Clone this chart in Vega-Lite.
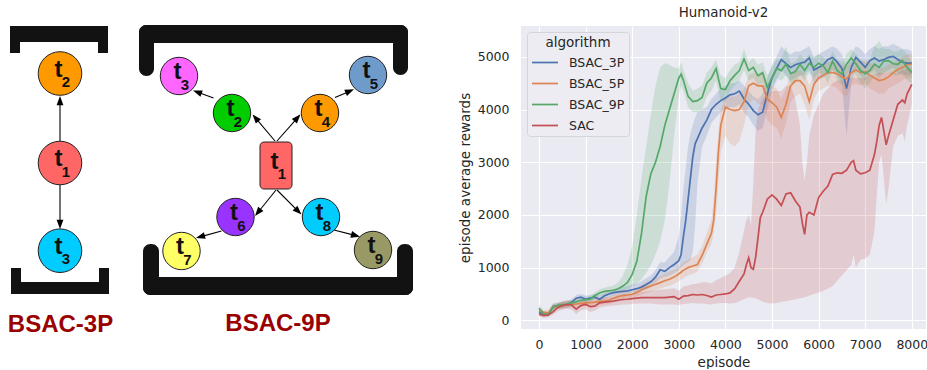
{
  "$schema": "https://vega.github.io/schema/vega-lite/v6.json",
  "padding": {"left": 0, "top": 5, "right": 0, "bottom": 0},
  "background": "white",
  "bounds": "flush",
  "spacing": 81,
  "resolve": {"scale": {"color": "independent"}, "legend": {"color": "independent"}},
  "config": {
    "font": "DejaVu Sans",
    "view": {"stroke": null},
    "axis": {"labelFont": "DejaVu Sans", "labelFontSize": 12.5, "labelColor": "#262626", "titleFont": "DejaVu Sans", "titleFontSize": 13.5, "titleFontWeight": "normal", "titleColor": "#262626", "gridColor": "#ffffff", "gridWidth": 1.1, "domain": false, "ticks": false},
    "title": {"font": "DejaVu Sans", "fontSize": 13.4, "fontWeight": "normal", "color": "#262626", "offset": 7}
  },
  "datasets": {
    "bars": [
      {"grp": "3P", "x": 10, "x2": 108, "y": 25, "y2": 41},
      {"grp": "3P", "x": 10, "x2": 20, "y": 25, "y2": 52},
      {"grp": "3P", "x": 98, "x2": 108, "y": 25, "y2": 52},
      {"grp": "3P", "x": 11, "x2": 109, "y": 281, "y2": 293},
      {"grp": "3P", "x": 11, "x2": 21, "y": 267, "y2": 293},
      {"grp": "3P", "x": 99, "x2": 109, "y": 267, "y2": 293},
      {"grp": "9P", "x": 139, "x2": 408, "y": 24, "y2": 42},
      {"grp": "9P", "x": 139, "x2": 154, "y": 24, "y2": 75},
      {"grp": "9P", "x": 393, "x2": 408, "y": 24, "y2": 74},
      {"grp": "9P", "x": 143, "x2": 413, "y": 276, "y2": 294},
      {"grp": "9P", "x": 143, "x2": 159, "y": 243, "y2": 294},
      {"grp": "9P", "x": 397, "x2": 413, "y": 243, "y2": 294}
    ],
    "edges": [
      {"x": 60, "y": 140, "x2": 60, "y2": 100.2},
      {"x": 60, "y": 184, "x2": 60, "y2": 222.8},
      {"x": 275, "y": 140, "x2": 255.9, "y2": 117.4},
      {"x": 277, "y": 140, "x2": 297, "y2": 117.3},
      {"x": 276, "y": 189, "x2": 258.3, "y2": 211},
      {"x": 277, "y": 189, "x2": 297.8, "y2": 209.9},
      {"x": 213.5, "y": 97, "x2": 197.9, "y2": 91.3},
      {"x": 335, "y": 96.5, "x2": 349.2, "y2": 90.4},
      {"x": 221.5, "y": 230, "x2": 201, "y2": 235.6},
      {"x": 334, "y": 229, "x2": 355, "y2": 234.4}
    ],
    "nodes": [
      {"id": "3P-t2", "grp": "3P", "kind": "circle", "num": "2", "x": 60, "y": 72.5},
      {"id": "3P-t1", "grp": "3P", "kind": "circle", "num": "1", "x": 60, "y": 162},
      {"id": "3P-t3", "grp": "3P", "kind": "circle", "num": "3", "x": 60, "y": 249.7},
      {"id": "9P-t3", "grp": "9P", "kind": "circle", "num": "3", "x": 179, "y": 75},
      {"id": "9P-t2", "grp": "9P", "kind": "circle", "num": "2", "x": 232, "y": 112},
      {"id": "9P-t4", "grp": "9P", "kind": "circle", "num": "4", "x": 320, "y": 112},
      {"id": "9P-t5", "grp": "9P", "kind": "circle", "num": "5", "x": 368, "y": 74},
      {"id": "9P-t6", "grp": "9P", "kind": "circle", "num": "6", "x": 235.5, "y": 216},
      {"id": "9P-t8", "grp": "9P", "kind": "circle", "num": "8", "x": 321, "y": 216},
      {"id": "9P-t7", "grp": "9P", "kind": "circle", "num": "7", "x": 181.5, "y": 250},
      {"id": "9P-t9", "grp": "9P", "kind": "circle", "num": "9", "x": 373, "y": 249},
      {"id": "9P-t1", "grp": "9P", "kind": "rect", "num": "1", "x": 276, "y": 164.5}
    ],
    "rects": [
      {"id": "9P-t1", "x": 260, "x2": 292, "y": 141, "y2": 188}
    ],
    "groups": [
      {"name": "BSAC-3P", "x": 60.5, "y": 324},
      {"name": "BSAC-9P", "x": 278, "y": 322.5}
    ],
    "curves": [
      {"algorithm":"BSAC_3P","episode":0,"mean":150,"lo":100,"hi":220},
      {"algorithm":"BSAC_3P","episode":100,"mean":120,"lo":80,"hi":170},
      {"algorithm":"BSAC_3P","episode":200,"mean":110,"lo":70,"hi":160},
      {"algorithm":"BSAC_3P","episode":300,"mean":260,"lo":200,"hi":320},
      {"algorithm":"BSAC_3P","episode":400,"mean":280,"lo":220,"hi":340},
      {"algorithm":"BSAC_3P","episode":500,"mean":290,"lo":230,"hi":350},
      {"algorithm":"BSAC_3P","episode":600,"mean":300,"lo":240,"hi":360},
      {"algorithm":"BSAC_3P","episode":700,"mean":340,"lo":280,"hi":400},
      {"algorithm":"BSAC_3P","episode":800,"mean":420,"lo":350,"hi":480},
      {"algorithm":"BSAC_3P","episode":900,"mean":440,"lo":370,"hi":500},
      {"algorithm":"BSAC_3P","episode":1000,"mean":400,"lo":340,"hi":470},
      {"algorithm":"BSAC_3P","episode":1100,"mean":420,"lo":360,"hi":480},
      {"algorithm":"BSAC_3P","episode":1200,"mean":440,"lo":380,"hi":500},
      {"algorithm":"BSAC_3P","episode":1300,"mean":400,"lo":340,"hi":470},
      {"algorithm":"BSAC_3P","episode":1400,"mean":460,"lo":400,"hi":520},
      {"algorithm":"BSAC_3P","episode":1500,"mean":500,"lo":440,"hi":560},
      {"algorithm":"BSAC_3P","episode":1600,"mean":525,"lo":460,"hi":590},
      {"algorithm":"BSAC_3P","episode":1700,"mean":540,"lo":470,"hi":610},
      {"algorithm":"BSAC_3P","episode":1800,"mean":550,"lo":480,"hi":630},
      {"algorithm":"BSAC_3P","episode":1900,"mean":560,"lo":490,"hi":650},
      {"algorithm":"BSAC_3P","episode":2000,"mean":580,"lo":500,"hi":680},
      {"algorithm":"BSAC_3P","episode":2100,"mean":600,"lo":520,"hi":700},
      {"algorithm":"BSAC_3P","episode":2200,"mean":630,"lo":550,"hi":740},
      {"algorithm":"BSAC_3P","episode":2300,"mean":680,"lo":580,"hi":800},
      {"algorithm":"BSAC_3P","episode":2400,"mean":730,"lo":620,"hi":850},
      {"algorithm":"BSAC_3P","episode":2500,"mean":820,"lo":700,"hi":950},
      {"algorithm":"BSAC_3P","episode":2600,"mean":960,"lo":800,"hi":1100},
      {"algorithm":"BSAC_3P","episode":2700,"mean":930,"lo":820,"hi":1100},
      {"algorithm":"BSAC_3P","episode":2800,"mean":1000,"lo":850,"hi":1200},
      {"algorithm":"BSAC_3P","episode":2900,"mean":1060,"lo":900,"hi":1300},
      {"algorithm":"BSAC_3P","episode":3000,"mean":1130,"lo":950,"hi":1600},
      {"algorithm":"BSAC_3P","episode":3050,"mean":1250,"lo":1000,"hi":2000},
      {"algorithm":"BSAC_3P","episode":3100,"mean":1600,"lo":1050,"hi":2500},
      {"algorithm":"BSAC_3P","episode":3150,"mean":1900,"lo":1080,"hi":2900},
      {"algorithm":"BSAC_3P","episode":3200,"mean":2300,"lo":1100,"hi":3300},
      {"algorithm":"BSAC_3P","episode":3250,"mean":2700,"lo":1150,"hi":3550},
      {"algorithm":"BSAC_3P","episode":3300,"mean":3100,"lo":1300,"hi":3700},
      {"algorithm":"BSAC_3P","episode":3350,"mean":3350,"lo":1800,"hi":3850},
      {"algorithm":"BSAC_3P","episode":3400,"mean":3450,"lo":2600,"hi":3950},
      {"algorithm":"BSAC_3P","episode":3500,"mean":3650,"lo":3300,"hi":4000},
      {"algorithm":"BSAC_3P","episode":3600,"mean":3800,"lo":3500,"hi":4050},
      {"algorithm":"BSAC_3P","episode":3700,"mean":4000,"lo":3750,"hi":4200},
      {"algorithm":"BSAC_3P","episode":3800,"mean":4100,"lo":3850,"hi":4300},
      {"algorithm":"BSAC_3P","episode":3900,"mean":4170,"lo":3950,"hi":4400},
      {"algorithm":"BSAC_3P","episode":4000,"mean":4220,"lo":4000,"hi":4450},
      {"algorithm":"BSAC_3P","episode":4100,"mean":4280,"lo":4050,"hi":4500},
      {"algorithm":"BSAC_3P","episode":4200,"mean":4300,"lo":4050,"hi":4500},
      {"algorithm":"BSAC_3P","episode":4300,"mean":4350,"lo":4100,"hi":4550},
      {"algorithm":"BSAC_3P","episode":4400,"mean":4200,"lo":3950,"hi":4450},
      {"algorithm":"BSAC_3P","episode":4500,"mean":4100,"lo":3850,"hi":4350},
      {"algorithm":"BSAC_3P","episode":4600,"mean":3980,"lo":3700,"hi":4250},
      {"algorithm":"BSAC_3P","episode":4700,"mean":3900,"lo":3600,"hi":4200},
      {"algorithm":"BSAC_3P","episode":4800,"mean":3950,"lo":3650,"hi":4300},
      {"algorithm":"BSAC_3P","episode":4900,"mean":4300,"lo":4000,"hi":4600},
      {"algorithm":"BSAC_3P","episode":5000,"mean":4600,"lo":4350,"hi":4850},
      {"algorithm":"BSAC_3P","episode":5100,"mean":4780,"lo":4550,"hi":5000},
      {"algorithm":"BSAC_3P","episode":5200,"mean":4950,"lo":4750,"hi":5200},
      {"algorithm":"BSAC_3P","episode":5300,"mean":4870,"lo":4650,"hi":5100},
      {"algorithm":"BSAC_3P","episode":5400,"mean":4800,"lo":4550,"hi":5050},
      {"algorithm":"BSAC_3P","episode":5500,"mean":4850,"lo":4600,"hi":5100},
      {"algorithm":"BSAC_3P","episode":5600,"mean":4880,"lo":4650,"hi":5100},
      {"algorithm":"BSAC_3P","episode":5700,"mean":4900,"lo":4650,"hi":5150},
      {"algorithm":"BSAC_3P","episode":5800,"mean":4980,"lo":4750,"hi":5200},
      {"algorithm":"BSAC_3P","episode":5900,"mean":4750,"lo":4500,"hi":5000},
      {"algorithm":"BSAC_3P","episode":6000,"mean":4800,"lo":4550,"hi":5050},
      {"algorithm":"BSAC_3P","episode":6100,"mean":4850,"lo":4600,"hi":5100},
      {"algorithm":"BSAC_3P","episode":6200,"mean":4950,"lo":4700,"hi":5150},
      {"algorithm":"BSAC_3P","episode":6300,"mean":4990,"lo":4750,"hi":5200},
      {"algorithm":"BSAC_3P","episode":6400,"mean":4900,"lo":4650,"hi":5150},
      {"algorithm":"BSAC_3P","episode":6500,"mean":4780,"lo":4500,"hi":5050},
      {"algorithm":"BSAC_3P","episode":6600,"mean":4400,"lo":3500,"hi":4800},
      {"algorithm":"BSAC_3P","episode":6700,"mean":4800,"lo":4500,"hi":5050},
      {"algorithm":"BSAC_3P","episode":6800,"mean":4990,"lo":4750,"hi":5200},
      {"algorithm":"BSAC_3P","episode":6900,"mean":4900,"lo":4650,"hi":5150},
      {"algorithm":"BSAC_3P","episode":7000,"mean":4800,"lo":4550,"hi":5050},
      {"algorithm":"BSAC_3P","episode":7100,"mean":4930,"lo":4700,"hi":5150},
      {"algorithm":"BSAC_3P","episode":7200,"mean":4980,"lo":4750,"hi":5200},
      {"algorithm":"BSAC_3P","episode":7300,"mean":4920,"lo":4650,"hi":5150},
      {"algorithm":"BSAC_3P","episode":7400,"mean":4950,"lo":4700,"hi":5200},
      {"algorithm":"BSAC_3P","episode":7500,"mean":4990,"lo":4750,"hi":5200},
      {"algorithm":"BSAC_3P","episode":7600,"mean":5010,"lo":4800,"hi":5250},
      {"algorithm":"BSAC_3P","episode":7700,"mean":4950,"lo":4700,"hi":5200},
      {"algorithm":"BSAC_3P","episode":7800,"mean":4900,"lo":4650,"hi":5150},
      {"algorithm":"BSAC_3P","episode":7900,"mean":4880,"lo":4650,"hi":5150},
      {"algorithm":"BSAC_3P","episode":8000,"mean":4880,"lo":4650,"hi":5100},

      {"algorithm":"BSAC_5P","episode":0,"mean":180,"lo":120,"hi":240},
      {"algorithm":"BSAC_5P","episode":100,"mean":150,"lo":100,"hi":200},
      {"algorithm":"BSAC_5P","episode":200,"mean":140,"lo":90,"hi":200},
      {"algorithm":"BSAC_5P","episode":300,"mean":250,"lo":190,"hi":320},
      {"algorithm":"BSAC_5P","episode":400,"mean":270,"lo":210,"hi":330},
      {"algorithm":"BSAC_5P","episode":500,"mean":280,"lo":220,"hi":340},
      {"algorithm":"BSAC_5P","episode":600,"mean":300,"lo":240,"hi":360},
      {"algorithm":"BSAC_5P","episode":700,"mean":300,"lo":240,"hi":360},
      {"algorithm":"BSAC_5P","episode":800,"mean":310,"lo":250,"hi":370},
      {"algorithm":"BSAC_5P","episode":900,"mean":320,"lo":260,"hi":380},
      {"algorithm":"BSAC_5P","episode":1000,"mean":330,"lo":270,"hi":390},
      {"algorithm":"BSAC_5P","episode":1100,"mean":335,"lo":270,"hi":400},
      {"algorithm":"BSAC_5P","episode":1200,"mean":345,"lo":280,"hi":410},
      {"algorithm":"BSAC_5P","episode":1300,"mean":355,"lo":290,"hi":420},
      {"algorithm":"BSAC_5P","episode":1400,"mean":365,"lo":300,"hi":430},
      {"algorithm":"BSAC_5P","episode":1500,"mean":380,"lo":310,"hi":450},
      {"algorithm":"BSAC_5P","episode":1600,"mean":420,"lo":350,"hi":490},
      {"algorithm":"BSAC_5P","episode":1700,"mean":450,"lo":380,"hi":520},
      {"algorithm":"BSAC_5P","episode":1800,"mean":470,"lo":400,"hi":540},
      {"algorithm":"BSAC_5P","episode":1900,"mean":480,"lo":410,"hi":550},
      {"algorithm":"BSAC_5P","episode":2000,"mean":490,"lo":420,"hi":560},
      {"algorithm":"BSAC_5P","episode":2100,"mean":530,"lo":450,"hi":610},
      {"algorithm":"BSAC_5P","episode":2200,"mean":580,"lo":490,"hi":670},
      {"algorithm":"BSAC_5P","episode":2300,"mean":620,"lo":520,"hi":720},
      {"algorithm":"BSAC_5P","episode":2400,"mean":650,"lo":540,"hi":760},
      {"algorithm":"BSAC_5P","episode":2500,"mean":680,"lo":570,"hi":800},
      {"algorithm":"BSAC_5P","episode":2600,"mean":715,"lo":600,"hi":840},
      {"algorithm":"BSAC_5P","episode":2700,"mean":750,"lo":630,"hi":880},
      {"algorithm":"BSAC_5P","episode":2800,"mean":780,"lo":650,"hi":920},
      {"algorithm":"BSAC_5P","episode":2900,"mean":820,"lo":690,"hi":960},
      {"algorithm":"BSAC_5P","episode":3000,"mean":880,"lo":740,"hi":1020},
      {"algorithm":"BSAC_5P","episode":3100,"mean":950,"lo":800,"hi":1100},
      {"algorithm":"BSAC_5P","episode":3200,"mean":1000,"lo":850,"hi":1150},
      {"algorithm":"BSAC_5P","episode":3300,"mean":1030,"lo":880,"hi":1200},
      {"algorithm":"BSAC_5P","episode":3400,"mean":1060,"lo":920,"hi":1250},
      {"algorithm":"BSAC_5P","episode":3500,"mean":1230,"lo":1080,"hi":1400},
      {"algorithm":"BSAC_5P","episode":3600,"mean":1440,"lo":1280,"hi":1650},
      {"algorithm":"BSAC_5P","episode":3700,"mean":1650,"lo":1450,"hi":1900},
      {"algorithm":"BSAC_5P","episode":3750,"mean":1900,"lo":1650,"hi":2300},
      {"algorithm":"BSAC_5P","episode":3800,"mean":2500,"lo":2000,"hi":3000},
      {"algorithm":"BSAC_5P","episode":3850,"mean":3200,"lo":2600,"hi":3600},
      {"algorithm":"BSAC_5P","episode":3900,"mean":3700,"lo":3200,"hi":4000},
      {"algorithm":"BSAC_5P","episode":4000,"mean":4050,"lo":3500,"hi":4250},
      {"algorithm":"BSAC_5P","episode":4100,"mean":4000,"lo":3350,"hi":4250},
      {"algorithm":"BSAC_5P","episode":4200,"mean":3980,"lo":3300,"hi":4250},
      {"algorithm":"BSAC_5P","episode":4300,"mean":4000,"lo":3400,"hi":4300},
      {"algorithm":"BSAC_5P","episode":4400,"mean":4150,"lo":3700,"hi":4400},
      {"algorithm":"BSAC_5P","episode":4500,"mean":4450,"lo":4100,"hi":4650},
      {"algorithm":"BSAC_5P","episode":4600,"mean":4500,"lo":4200,"hi":4700},
      {"algorithm":"BSAC_5P","episode":4700,"mean":4450,"lo":4100,"hi":4700},
      {"algorithm":"BSAC_5P","episode":4800,"mean":4450,"lo":4100,"hi":4700},
      {"algorithm":"BSAC_5P","episode":4900,"mean":4200,"lo":3800,"hi":4500},
      {"algorithm":"BSAC_5P","episode":5000,"mean":4130,"lo":3700,"hi":4450},
      {"algorithm":"BSAC_5P","episode":5100,"mean":4050,"lo":3650,"hi":4400},
      {"algorithm":"BSAC_5P","episode":5200,"mean":3850,"lo":3450,"hi":4200},
      {"algorithm":"BSAC_5P","episode":5300,"mean":4100,"lo":3750,"hi":4400},
      {"algorithm":"BSAC_5P","episode":5400,"mean":4450,"lo":4150,"hi":4700},
      {"algorithm":"BSAC_5P","episode":5500,"mean":4550,"lo":4250,"hi":4750},
      {"algorithm":"BSAC_5P","episode":5600,"mean":4550,"lo":4300,"hi":4750},
      {"algorithm":"BSAC_5P","episode":5700,"mean":4450,"lo":4100,"hi":4700},
      {"algorithm":"BSAC_5P","episode":5800,"mean":4150,"lo":3800,"hi":4450},
      {"algorithm":"BSAC_5P","episode":5900,"mean":4480,"lo":4200,"hi":4700},
      {"algorithm":"BSAC_5P","episode":6000,"mean":4600,"lo":4350,"hi":4800},
      {"algorithm":"BSAC_5P","episode":6100,"mean":4650,"lo":4400,"hi":4850},
      {"algorithm":"BSAC_5P","episode":6200,"mean":4700,"lo":4450,"hi":4900},
      {"algorithm":"BSAC_5P","episode":6300,"mean":4700,"lo":4450,"hi":4900},
      {"algorithm":"BSAC_5P","episode":6400,"mean":4680,"lo":4400,"hi":4900},
      {"algorithm":"BSAC_5P","episode":6500,"mean":4620,"lo":4300,"hi":4850},
      {"algorithm":"BSAC_5P","episode":6600,"mean":4580,"lo":4250,"hi":4850},
      {"algorithm":"BSAC_5P","episode":6700,"mean":4700,"lo":4450,"hi":4900},
      {"algorithm":"BSAC_5P","episode":6800,"mean":4750,"lo":4500,"hi":4950},
      {"algorithm":"BSAC_5P","episode":6900,"mean":4700,"lo":4450,"hi":4900},
      {"algorithm":"BSAC_5P","episode":7000,"mean":4720,"lo":4500,"hi":4950},
      {"algorithm":"BSAC_5P","episode":7100,"mean":4650,"lo":4400,"hi":4900},
      {"algorithm":"BSAC_5P","episode":7200,"mean":4600,"lo":4350,"hi":4850},
      {"algorithm":"BSAC_5P","episode":7300,"mean":4550,"lo":4300,"hi":4800},
      {"algorithm":"BSAC_5P","episode":7400,"mean":4570,"lo":4300,"hi":4800},
      {"algorithm":"BSAC_5P","episode":7500,"mean":4620,"lo":4400,"hi":4850},
      {"algorithm":"BSAC_5P","episode":7600,"mean":4700,"lo":4450,"hi":4900},
      {"algorithm":"BSAC_5P","episode":7700,"mean":4760,"lo":4500,"hi":4950},
      {"algorithm":"BSAC_5P","episode":7800,"mean":4800,"lo":4550,"hi":5000},
      {"algorithm":"BSAC_5P","episode":7900,"mean":4850,"lo":4600,"hi":5050},
      {"algorithm":"BSAC_5P","episode":8000,"mean":4860,"lo":4600,"hi":5050},

      {"algorithm":"BSAC_9P","episode":0,"mean":230,"lo":150,"hi":300},
      {"algorithm":"BSAC_9P","episode":100,"mean":120,"lo":80,"hi":170},
      {"algorithm":"BSAC_9P","episode":200,"mean":110,"lo":70,"hi":160},
      {"algorithm":"BSAC_9P","episode":300,"mean":250,"lo":180,"hi":300},
      {"algorithm":"BSAC_9P","episode":400,"mean":280,"lo":220,"hi":330},
      {"algorithm":"BSAC_9P","episode":500,"mean":300,"lo":240,"hi":350},
      {"algorithm":"BSAC_9P","episode":600,"mean":310,"lo":250,"hi":370},
      {"algorithm":"BSAC_9P","episode":700,"mean":330,"lo":270,"hi":390},
      {"algorithm":"BSAC_9P","episode":800,"mean":350,"lo":290,"hi":410},
      {"algorithm":"BSAC_9P","episode":900,"mean":380,"lo":320,"hi":440},
      {"algorithm":"BSAC_9P","episode":1000,"mean":390,"lo":330,"hi":450},
      {"algorithm":"BSAC_9P","episode":1100,"mean":400,"lo":340,"hi":460},
      {"algorithm":"BSAC_9P","episode":1200,"mean":470,"lo":400,"hi":530},
      {"algorithm":"BSAC_9P","episode":1300,"mean":520,"lo":450,"hi":590},
      {"algorithm":"BSAC_9P","episode":1400,"mean":550,"lo":480,"hi":620},
      {"algorithm":"BSAC_9P","episode":1500,"mean":560,"lo":490,"hi":640},
      {"algorithm":"BSAC_9P","episode":1600,"mean":570,"lo":500,"hi":660},
      {"algorithm":"BSAC_9P","episode":1700,"mean":600,"lo":520,"hi":720},
      {"algorithm":"BSAC_9P","episode":1800,"mean":650,"lo":560,"hi":850},
      {"algorithm":"BSAC_9P","episode":1900,"mean":720,"lo":600,"hi":1050},
      {"algorithm":"BSAC_9P","episode":2000,"mean":870,"lo":640,"hi":1400},
      {"algorithm":"BSAC_9P","episode":2100,"mean":1120,"lo":700,"hi":2000},
      {"algorithm":"BSAC_9P","episode":2200,"mean":1650,"lo":780,"hi":2700},
      {"algorithm":"BSAC_9P","episode":2300,"mean":2350,"lo":900,"hi":3300},
      {"algorithm":"BSAC_9P","episode":2400,"mean":2780,"lo":1050,"hi":3900},
      {"algorithm":"BSAC_9P","episode":2500,"mean":3000,"lo":1250,"hi":4450},
      {"algorithm":"BSAC_9P","episode":2600,"mean":3300,"lo":1500,"hi":4800},
      {"algorithm":"BSAC_9P","episode":2700,"mean":3700,"lo":1900,"hi":4880},
      {"algorithm":"BSAC_9P","episode":2800,"mean":4000,"lo":2600,"hi":4850},
      {"algorithm":"BSAC_9P","episode":2900,"mean":4300,"lo":3500,"hi":4800},
      {"algorithm":"BSAC_9P","episode":3000,"mean":4600,"lo":4250,"hi":4780},
      {"algorithm":"BSAC_9P","episode":3050,"mean":4670,"lo":4450,"hi":4900},
      {"algorithm":"BSAC_9P","episode":3100,"mean":4550,"lo":4350,"hi":4750},
      {"algorithm":"BSAC_9P","episode":3200,"mean":4250,"lo":4050,"hi":4500},
      {"algorithm":"BSAC_9P","episode":3300,"mean":4150,"lo":3950,"hi":4350},
      {"algorithm":"BSAC_9P","episode":3400,"mean":4170,"lo":3950,"hi":4400},
      {"algorithm":"BSAC_9P","episode":3500,"mean":4230,"lo":4000,"hi":4450},
      {"algorithm":"BSAC_9P","episode":3600,"mean":4500,"lo":4250,"hi":4700},
      {"algorithm":"BSAC_9P","episode":3700,"mean":4600,"lo":4350,"hi":4800},
      {"algorithm":"BSAC_9P","episode":3800,"mean":4780,"lo":4550,"hi":4950},
      {"algorithm":"BSAC_9P","episode":3900,"mean":4400,"lo":4150,"hi":4650},
      {"algorithm":"BSAC_9P","episode":4000,"mean":4380,"lo":4150,"hi":4600},
      {"algorithm":"BSAC_9P","episode":4100,"mean":4550,"lo":4350,"hi":4750},
      {"algorithm":"BSAC_9P","episode":4200,"mean":4650,"lo":4450,"hi":4850},
      {"algorithm":"BSAC_9P","episode":4300,"mean":4740,"lo":4550,"hi":4900},
      {"algorithm":"BSAC_9P","episode":4400,"mean":4960,"lo":4750,"hi":5150},
      {"algorithm":"BSAC_9P","episode":4500,"mean":4740,"lo":4550,"hi":4900},
      {"algorithm":"BSAC_9P","episode":4600,"mean":4800,"lo":4600,"hi":4980},
      {"algorithm":"BSAC_9P","episode":4700,"mean":4640,"lo":4450,"hi":4850},
      {"algorithm":"BSAC_9P","episode":4800,"mean":4700,"lo":4500,"hi":4900},
      {"algorithm":"BSAC_9P","episode":4900,"mean":4420,"lo":4200,"hi":4650},
      {"algorithm":"BSAC_9P","episode":5000,"mean":4600,"lo":4400,"hi":4800},
      {"algorithm":"BSAC_9P","episode":5100,"mean":4780,"lo":4600,"hi":4950},
      {"algorithm":"BSAC_9P","episode":5200,"mean":4740,"lo":4550,"hi":4950},
      {"algorithm":"BSAC_9P","episode":5300,"mean":4860,"lo":4650,"hi":5200},
      {"algorithm":"BSAC_9P","episode":5400,"mean":4680,"lo":4500,"hi":4880},
      {"algorithm":"BSAC_9P","episode":5500,"mean":4720,"lo":4500,"hi":4900},
      {"algorithm":"BSAC_9P","episode":5600,"mean":4860,"lo":4650,"hi":5050},
      {"algorithm":"BSAC_9P","episode":5700,"mean":4740,"lo":4550,"hi":4950},
      {"algorithm":"BSAC_9P","episode":5800,"mean":4880,"lo":4700,"hi":5050},
      {"algorithm":"BSAC_9P","episode":5900,"mean":4800,"lo":4600,"hi":4980},
      {"algorithm":"BSAC_9P","episode":6000,"mean":4880,"lo":4700,"hi":5050},
      {"algorithm":"BSAC_9P","episode":6100,"mean":4830,"lo":4650,"hi":5000},
      {"algorithm":"BSAC_9P","episode":6200,"mean":4700,"lo":4500,"hi":4900},
      {"algorithm":"BSAC_9P","episode":6300,"mean":4920,"lo":4750,"hi":5100},
      {"algorithm":"BSAC_9P","episode":6400,"mean":4740,"lo":4550,"hi":4950},
      {"algorithm":"BSAC_9P","episode":6500,"mean":4670,"lo":4450,"hi":4900},
      {"algorithm":"BSAC_9P","episode":6600,"mean":4860,"lo":4650,"hi":5050},
      {"algorithm":"BSAC_9P","episode":6700,"mean":4980,"lo":4800,"hi":5150},
      {"algorithm":"BSAC_9P","episode":6800,"mean":4870,"lo":4650,"hi":5050},
      {"algorithm":"BSAC_9P","episode":6900,"mean":4740,"lo":4500,"hi":4950},
      {"algorithm":"BSAC_9P","episode":7000,"mean":4680,"lo":4400,"hi":4900},
      {"algorithm":"BSAC_9P","episode":7100,"mean":4740,"lo":4500,"hi":4950},
      {"algorithm":"BSAC_9P","episode":7200,"mean":4860,"lo":4650,"hi":5200},
      {"algorithm":"BSAC_9P","episode":7300,"mean":4800,"lo":4600,"hi":5300},
      {"algorithm":"BSAC_9P","episode":7400,"mean":4920,"lo":4700,"hi":5150},
      {"algorithm":"BSAC_9P","episode":7500,"mean":4930,"lo":4700,"hi":5150},
      {"algorithm":"BSAC_9P","episode":7600,"mean":4870,"lo":4650,"hi":5100},
      {"algorithm":"BSAC_9P","episode":7700,"mean":4860,"lo":4650,"hi":5100},
      {"algorithm":"BSAC_9P","episode":7800,"mean":4930,"lo":4700,"hi":5150},
      {"algorithm":"BSAC_9P","episode":7900,"mean":4800,"lo":4550,"hi":5050},
      {"algorithm":"BSAC_9P","episode":8000,"mean":4700,"lo":4500,"hi":4900},

      {"algorithm":"SAC","episode":0,"mean":115,"lo":70,"hi":170},
      {"algorithm":"SAC","episode":100,"mean":90,"lo":50,"hi":140},
      {"algorithm":"SAC","episode":200,"mean":100,"lo":60,"hi":150},
      {"algorithm":"SAC","episode":300,"mean":160,"lo":100,"hi":230},
      {"algorithm":"SAC","episode":400,"mean":240,"lo":170,"hi":320},
      {"algorithm":"SAC","episode":500,"mean":280,"lo":200,"hi":360},
      {"algorithm":"SAC","episode":600,"mean":300,"lo":220,"hi":380},
      {"algorithm":"SAC","episode":700,"mean":290,"lo":200,"hi":370},
      {"algorithm":"SAC","episode":800,"mean":210,"lo":120,"hi":300},
      {"algorithm":"SAC","episode":900,"mean":280,"lo":190,"hi":370},
      {"algorithm":"SAC","episode":1000,"mean":300,"lo":210,"hi":390},
      {"algorithm":"SAC","episode":1100,"mean":260,"lo":160,"hi":350},
      {"algorithm":"SAC","episode":1200,"mean":270,"lo":180,"hi":360},
      {"algorithm":"SAC","episode":1300,"mean":330,"lo":240,"hi":420},
      {"algorithm":"SAC","episode":1400,"mean":345,"lo":260,"hi":430},
      {"algorithm":"SAC","episode":1500,"mean":355,"lo":270,"hi":440},
      {"algorithm":"SAC","episode":1600,"mean":365,"lo":280,"hi":450},
      {"algorithm":"SAC","episode":1700,"mean":380,"lo":290,"hi":470},
      {"algorithm":"SAC","episode":1800,"mean":395,"lo":300,"hi":490},
      {"algorithm":"SAC","episode":1900,"mean":400,"lo":300,"hi":500},
      {"algorithm":"SAC","episode":2000,"mean":410,"lo":310,"hi":510},
      {"algorithm":"SAC","episode":2100,"mean":420,"lo":320,"hi":530},
      {"algorithm":"SAC","episode":2200,"mean":430,"lo":320,"hi":540},
      {"algorithm":"SAC","episode":2300,"mean":430,"lo":320,"hi":550},
      {"algorithm":"SAC","episode":2400,"mean":430,"lo":320,"hi":560},
      {"algorithm":"SAC","episode":2500,"mean":430,"lo":310,"hi":570},
      {"algorithm":"SAC","episode":2600,"mean":430,"lo":300,"hi":580},
      {"algorithm":"SAC","episode":2700,"mean":430,"lo":300,"hi":590},
      {"algorithm":"SAC","episode":2800,"mean":440,"lo":300,"hi":600},
      {"algorithm":"SAC","episode":2900,"mean":450,"lo":300,"hi":610},
      {"algorithm":"SAC","episode":3000,"mean":400,"lo":290,"hi":560},
      {"algorithm":"SAC","episode":3100,"mean":460,"lo":310,"hi":640},
      {"algorithm":"SAC","episode":3200,"mean":470,"lo":320,"hi":660},
      {"algorithm":"SAC","episode":3300,"mean":490,"lo":330,"hi":690},
      {"algorithm":"SAC","episode":3400,"mean":480,"lo":320,"hi":700},
      {"algorithm":"SAC","episode":3500,"mean":490,"lo":320,"hi":720},
      {"algorithm":"SAC","episode":3600,"mean":470,"lo":310,"hi":720},
      {"algorithm":"SAC","episode":3700,"mean":440,"lo":300,"hi":700},
      {"algorithm":"SAC","episode":3800,"mean":480,"lo":320,"hi":760},
      {"algorithm":"SAC","episode":3900,"mean":490,"lo":330,"hi":800},
      {"algorithm":"SAC","episode":4000,"mean":500,"lo":330,"hi":850},
      {"algorithm":"SAC","episode":4100,"mean":520,"lo":320,"hi":900},
      {"algorithm":"SAC","episode":4200,"mean":600,"lo":330,"hi":1000},
      {"algorithm":"SAC","episode":4300,"mean":740,"lo":360,"hi":1300},
      {"algorithm":"SAC","episode":4400,"mean":880,"lo":400,"hi":1700},
      {"algorithm":"SAC","episode":4450,"mean":1050,"lo":420,"hi":1900},
      {"algorithm":"SAC","episode":4500,"mean":1190,"lo":440,"hi":2000},
      {"algorithm":"SAC","episode":4550,"mean":1000,"lo":440,"hi":1800},
      {"algorithm":"SAC","episode":4600,"mean":970,"lo":430,"hi":2600},
      {"algorithm":"SAC","episode":4650,"mean":1200,"lo":420,"hi":3600},
      {"algorithm":"SAC","episode":4700,"mean":1570,"lo":400,"hi":4000},
      {"algorithm":"SAC","episode":4750,"mean":1950,"lo":380,"hi":4100},
      {"algorithm":"SAC","episode":4800,"mean":2050,"lo":350,"hi":4200},
      {"algorithm":"SAC","episode":4900,"mean":2300,"lo":330,"hi":4300},
      {"algorithm":"SAC","episode":5000,"mean":2380,"lo":320,"hi":4350},
      {"algorithm":"SAC","episode":5100,"mean":2300,"lo":330,"hi":4350},
      {"algorithm":"SAC","episode":5200,"mean":2180,"lo":350,"hi":4350},
      {"algorithm":"SAC","episode":5300,"mean":2400,"lo":360,"hi":4450},
      {"algorithm":"SAC","episode":5400,"mean":2420,"lo":380,"hi":4450},
      {"algorithm":"SAC","episode":5500,"mean":2270,"lo":400,"hi":4200},
      {"algorithm":"SAC","episode":5600,"mean":2150,"lo":420,"hi":3700},
      {"algorithm":"SAC","episode":5650,"mean":1850,"lo":430,"hi":3000},
      {"algorithm":"SAC","episode":5700,"mean":1630,"lo":440,"hi":2650},
      {"algorithm":"SAC","episode":5750,"mean":2000,"lo":450,"hi":3000},
      {"algorithm":"SAC","episode":5800,"mean":2050,"lo":470,"hi":3500},
      {"algorithm":"SAC","episode":5900,"mean":2000,"lo":500,"hi":3900},
      {"algorithm":"SAC","episode":6000,"mean":2330,"lo":530,"hi":4100},
      {"algorithm":"SAC","episode":6100,"mean":2450,"lo":560,"hi":4300},
      {"algorithm":"SAC","episode":6200,"mean":2550,"lo":600,"hi":4400},
      {"algorithm":"SAC","episode":6300,"mean":2770,"lo":650,"hi":4500},
      {"algorithm":"SAC","episode":6400,"mean":2800,"lo":750,"hi":4550},
      {"algorithm":"SAC","episode":6500,"mean":2790,"lo":850,"hi":4550},
      {"algorithm":"SAC","episode":6600,"mean":2850,"lo":950,"hi":4550},
      {"algorithm":"SAC","episode":6700,"mean":3000,"lo":1050,"hi":4600},
      {"algorithm":"SAC","episode":6750,"mean":3030,"lo":1250,"hi":4600},
      {"algorithm":"SAC","episode":6800,"mean":2850,"lo":1000,"hi":4600},
      {"algorithm":"SAC","episode":6900,"mean":2780,"lo":1150,"hi":4600},
      {"algorithm":"SAC","episode":7000,"mean":2800,"lo":1170,"hi":4600},
      {"algorithm":"SAC","episode":7100,"mean":2850,"lo":1250,"hi":4650},
      {"algorithm":"SAC","episode":7200,"mean":3150,"lo":1700,"hi":4650},
      {"algorithm":"SAC","episode":7250,"mean":3400,"lo":2400,"hi":4700},
      {"algorithm":"SAC","episode":7300,"mean":3700,"lo":3000,"hi":4700},
      {"algorithm":"SAC","episode":7350,"mean":3850,"lo":3150,"hi":4700},
      {"algorithm":"SAC","episode":7400,"mean":3600,"lo":2700,"hi":4700},
      {"algorithm":"SAC","episode":7450,"mean":3330,"lo":2200,"hi":4700},
      {"algorithm":"SAC","episode":7500,"mean":3500,"lo":2500,"hi":4700},
      {"algorithm":"SAC","episode":7600,"mean":3800,"lo":3300,"hi":4700},
      {"algorithm":"SAC","episode":7700,"mean":4100,"lo":3500,"hi":4700},
      {"algorithm":"SAC","episode":7800,"mean":4180,"lo":3550,"hi":4750},
      {"algorithm":"SAC","episode":7850,"mean":4130,"lo":3400,"hi":4750},
      {"algorithm":"SAC","episode":7900,"mean":4300,"lo":3700,"hi":4800},
      {"algorithm":"SAC","episode":8000,"mean":4480,"lo":4100,"hi":4800}
    ]
  },
  "hconcat": [
    {
      "width": 440,
      "height": 303,
      "view": {"stroke": null, "fill": null},
      "layer": [
        {
          "data": {"name": "bars"},
          "transform": [{"filter": "datum.grp === '3P'"}],
          "mark": {"type": "rect", "color": "#121212"},
          "encoding": {
            "x": {"field": "x", "type": "quantitative", "scale": {"domain": [0, 440], "nice": false, "zero": false}, "axis": null},
            "x2": {"field": "x2"},
            "y": {"field": "y", "type": "quantitative", "scale": {"domain": [25, 328], "nice": false, "zero": false, "reverse": true}, "axis": null},
            "y2": {"field": "y2"}
          }
        },
        {
          "data": {"name": "bars"},
          "transform": [{"filter": "datum.grp === '9P'"}],
          "mark": {"type": "rect", "color": "#121212", "cornerRadius": 7.5},
          "encoding": {
            "x": {"field": "x", "type": "quantitative", "axis": null},
            "x2": {"field": "x2"},
            "y": {"field": "y", "type": "quantitative", "axis": null},
            "y2": {"field": "y2"}
          }
        },
        {
          "data": {"name": "edges"},
          "mark": {"type": "rule", "color": "#000000", "strokeWidth": 1.1},
          "encoding": {
            "x": {"field": "x", "type": "quantitative", "axis": null},
            "x2": {"field": "x2"},
            "y": {"field": "y", "type": "quantitative", "axis": null},
            "y2": {"field": "y2"}
          }
        },
        {
          "data": {"name": "edges"},
          "transform": [{"calculate": "(atan2(datum.x2 - datum.x, datum.y - datum.y2) * 180 / PI + 360) % 360", "as": "heading"}],
          "mark": {"type": "point", "shape": "M0,-1L-0.65,0.75L0.65,0.75Z", "filled": true, "color": "#000000", "opacity": 1, "size": 110},
          "encoding": {
            "x": {"field": "x2", "type": "quantitative", "axis": null},
            "y": {"field": "y2", "type": "quantitative", "axis": null},
            "angle": {"field": "heading", "type": "quantitative", "scale": null}
          }
        },
        {
          "data": {"name": "rects"},
          "mark": {"type": "rect", "fill": "#FF6666", "stroke": "#222222", "strokeWidth": 1, "cornerRadius": 4},
          "encoding": {
            "x": {"field": "x", "type": "quantitative", "axis": null},
            "x2": {"field": "x2"},
            "y": {"field": "y", "type": "quantitative", "axis": null},
            "y2": {"field": "y2"}
          }
        },
        {
          "data": {"name": "nodes"},
          "transform": [{"filter": "datum.kind === 'circle'"}, {"filter": "datum.grp === '3P'"}],
          "mark": {"type": "point", "shape": "circle", "filled": true, "opacity": 1, "stroke": "#222222", "strokeWidth": 1, "size": 1900},
          "encoding": {
            "x": {"field": "x", "type": "quantitative", "axis": null},
            "y": {"field": "y", "type": "quantitative", "axis": null},
            "fill": {"field": "id", "type": "nominal", "legend": null, "scale": {"domain": ["3P-t1","3P-t2","3P-t3","9P-t2","9P-t3","9P-t4","9P-t5","9P-t6","9P-t7","9P-t8","9P-t9"], "range": ["#FF6666","#FF9900","#00CCFF","#00CC00","#FF66FF","#FF9900","#6F9BCB","#9933FF","#FFFF66","#00CCFF","#999966"]}}
          }
        },
        {
          "data": {"name": "nodes"},
          "transform": [{"filter": "datum.kind === 'circle'"}, {"filter": "datum.grp === '9P'"}],
          "mark": {"type": "point", "shape": "circle", "filled": true, "opacity": 1, "stroke": "#222222", "strokeWidth": 1, "size": 1400},
          "encoding": {
            "x": {"field": "x", "type": "quantitative", "axis": null},
            "y": {"field": "y", "type": "quantitative", "axis": null},
            "fill": {"field": "id", "type": "nominal", "legend": null}
          }
        },
        {
          "data": {"name": "nodes"},
          "mark": {"type": "text", "text": "t", "font": "Liberation Sans", "fontWeight": "bold", "fontSize": 24, "color": "#111111", "align": "center", "baseline": "middle", "dx": -1.5, "dy": -4},
          "encoding": {
            "x": {"field": "x", "type": "quantitative", "axis": null},
            "y": {"field": "y", "type": "quantitative", "axis": null}
          }
        },
        {
          "data": {"name": "nodes"},
          "mark": {"type": "text", "font": "Liberation Sans", "fontWeight": "bold", "fontSize": 15, "color": "#111111", "align": "center", "baseline": "middle", "dx": 6, "dy": 8.5},
          "encoding": {
            "x": {"field": "x", "type": "quantitative", "axis": null},
            "y": {"field": "y", "type": "quantitative", "axis": null},
            "text": {"field": "num", "type": "nominal"}
          }
        },
        {
          "data": {"name": "groups"},
          "mark": {"type": "text", "font": "Liberation Sans", "fontWeight": "bold", "fontSize": 24, "color": "#990000", "align": "center", "baseline": "middle"},
          "encoding": {
            "x": {"field": "x", "type": "quantitative", "axis": null},
            "y": {"field": "y", "type": "quantitative", "axis": null},
            "text": {"field": "name", "type": "nominal"}
          }
        }
      ]
    },
    {
      "width": 405,
      "height": 303,
      "title": "Humanoid-v2",
      "view": {"fill": "#EAEAF2", "stroke": null},
      "data": {"name": "curves"},
      "encoding": {
        "x": {"field": "episode", "type": "quantitative", "scale": {"domain": [-386, 8305], "nice": false, "zero": false}, "axis": {"values": [0,1000,2000,3000,4000,5000,6000,7000,8000], "format": "d", "title": "episode", "grid": true, "labelPadding": 9, "titlePadding": 5, "labelFlush": false}},
        "color": {"field": "algorithm", "type": "nominal", "scale": {"domain": ["BSAC_3P","BSAC_5P","BSAC_9P","SAC"], "range": ["#4C72B0","#DD8452","#55A868","#C44E52"]}, "legend": {"title": "algorithm", "orient": "top-left", "offset": 6, "padding": 4, "fillColor": "#ECECF2", "strokeColor": "#d4d4da", "cornerRadius": 3, "titleFont": "DejaVu Sans", "titleFontSize": 13.5, "titleFontWeight": "normal", "titleColor": "#262626", "titleAnchor": "middle", "titlePadding": -1, "labelFont": "DejaVu Sans", "labelFontSize": 12.5, "labelColor": "#262626", "symbolType": "stroke", "symbolStrokeWidth": 1.7, "symbolSize": 676, "symbolOpacity": 1, "labelOffset": 10, "rowPadding": -1}}
      },
      "layer": [
        {
          "mark": {"type": "area", "opacity": 0.2},
          "encoding": {
            "y": {"field": "lo", "type": "quantitative", "scale": {"domain": [-165, 5586], "nice": false, "zero": false}, "axis": {"values": [0,1000,2000,3000,4000,5000], "format": "d", "title": "episode average rewards", "grid": true, "labelPadding": 12, "titlePadding": 5}},
            "y2": {"field": "hi"}
          }
        },
        {
          "mark": {"type": "line", "strokeWidth": 1.7},
          "encoding": {
            "y": {"field": "mean", "type": "quantitative"}
          }
        }
      ]
    }
  ]
}
